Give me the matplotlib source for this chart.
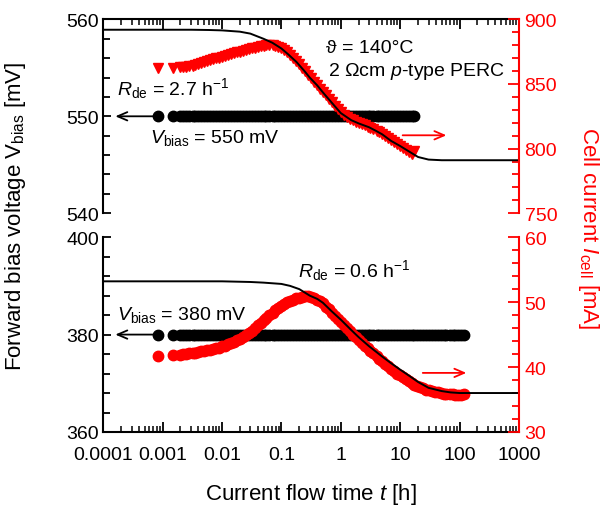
import numpy as np
import matplotlib
matplotlib.use("Agg")
import matplotlib.pyplot as plt
from matplotlib.ticker import MultipleLocator, LogLocator, NullFormatter

plt.rcParams["font.family"] = ["Liberation Sans", "DejaVu Sans"]
plt.rcParams["mathtext.fontset"] = "custom"
plt.rcParams["mathtext.rm"] = "Liberation Sans"
plt.rcParams["mathtext.it"] = "Liberation Sans:italic"
plt.rcParams["axes.linewidth"] = 1.5

# measurement times [h]
t_top = [0.00083, 0.0015,
         0.0020, 0.0022, 0.0025, 0.0028, 0.0032, 0.0035, 0.0040, 0.0045, 0.0050, 0.0056,
         0.0063, 0.0071, 0.0079, 0.0089, 0.010, 0.0112, 0.0126, 0.0141, 0.0158, 0.0178,
         0.020, 0.0224, 0.0251, 0.0282, 0.0316, 0.0355, 0.040, 0.0447, 0.050, 0.056,
         0.063, 0.071, 0.079, 0.089, 0.10, 0.112, 0.126, 0.141, 0.158, 0.178,
         0.20, 0.224, 0.251, 0.282, 0.316, 0.355, 0.40, 0.447, 0.50, 0.56,
         0.63, 0.71, 0.79, 0.89, 1.0, 1.12, 1.26, 1.41, 1.58, 1.78,
         2.0, 2.24, 2.51, 2.82, 3.16, 3.55, 4.0, 4.47, 5.0, 5.6,
         6.3, 7.1, 7.9, 8.9, 10, 11.2, 12.6, 14.1, 15.8, 17]
t_bot = t_top + [19, 21.4, 24, 27, 30, 34, 38, 43, 48, 54, 60, 68, 76, 85, 95, 107, 120]

# bias voltage [mV]
v_top = [550.0] * len(t_top)
v_bot = [380.0] * len(t_bot)

# cell current at 550 mV [mA]
i_top = [862.5, 862.5,
         862.8, 863.0, 863.3, 863.8, 864.3, 864.8, 865.5, 866.2, 866.8, 867.5,
         868.3, 869.0, 869.8, 870.5, 871.2, 871.9, 872.6, 873.2, 873.9, 874.5,
         875.1, 875.7, 876.3, 876.9, 877.5, 878.1, 878.7, 879.2, 879.6, 880.0,
         880.1, 880.0, 879.6, 878.8, 877.8, 876.4, 874.6, 872.5, 870.2, 867.8,
         865.2, 862.6, 860.0, 857.3, 854.6, 851.9, 849.2, 846.5, 843.8, 841.1,
         838.4, 835.7, 833.0, 830.4, 828.0, 826.0, 824.3, 822.9, 821.8, 820.8,
         819.8, 818.9, 818.0, 817.1, 816.2, 815.1, 813.9, 812.6, 811.2, 809.8,
         808.3, 806.8, 805.2, 803.6, 802.0, 800.4, 798.8, 797.3, 796.2, 798.0]

# cell current at 380 mV [mA]
i_bot = [41.7, 41.8,
         41.9, 42.0, 42.0, 42.1, 42.2, 42.2, 42.3, 42.4, 42.5, 42.6,
         42.7, 42.8, 42.9, 43.0, 43.2, 43.3, 43.5, 43.7, 43.9, 44.1,
         44.3, 44.6, 44.9, 45.2, 45.6, 46.0, 46.4, 46.8, 47.2, 47.6,
         48.0, 48.4, 48.8, 49.1, 49.4, 49.7, 50.0, 50.2, 50.4, 50.6,
         50.7, 50.8, 50.9, 50.9, 50.8, 50.6, 50.4, 50.1, 49.8, 49.3,
         48.9, 48.4, 47.9, 47.4, 46.9, 46.5, 46.0, 45.5, 45.0, 44.6,
         44.1, 43.7, 43.3, 42.9, 42.5, 42.1, 41.7, 41.3, 40.9, 40.5,
         40.1, 39.7, 39.4, 39.0, 38.7, 38.4, 38.1, 37.8, 37.5, 37.3,
         37.1, 36.9, 36.7, 36.5, 36.4, 36.3, 36.2, 36.1, 36.0, 35.9,
         35.9, 35.8, 35.8, 35.7, 35.7, 35.7, 35.8]

# fits
t_fit_top = [1e-4, 0.003, 0.006, 0.01, 0.02, 0.03, 0.05, 0.07, 0.1, 0.13, 0.18, 0.25, 0.3, 0.4,
             0.5, 0.7, 1.0, 1.5, 2, 3, 4, 5, 7, 10, 15, 20, 30, 50, 1000]
i_fit_top = [892, 892, 891.8, 891.5, 890.5, 889, 885, 882, 877.5, 873, 867, 859.5, 855, 849,
             843.5, 835.7, 827.5, 822, 819.5, 816.5, 813.5, 811, 806, 802, 797, 793.5, 791.5, 791, 791]

t_fit_bot = [1e-4, 0.01, 0.03, 0.05, 0.1, 0.14, 0.2, 0.3, 0.4, 0.5, 0.7, 1.0, 1.5, 2, 3,
             5, 7, 10, 15, 20, 30, 50, 70, 100, 1000]
i_fit_bot = [53.2, 53.2, 53.1, 53.0, 52.8, 52.5, 52.0, 51.0, 50.5, 49.9, 48.6, 47.3, 45.7, 44.6, 43.2,
             41.6, 40.6, 39.6, 38.5, 37.7, 36.8, 36.3, 36.1, 36.0, 36.0]

red = "#ff0000"
fs_tick = 14
fs_txt = 14
fs_lab = 16

fig = plt.figure(figsize=(6.07, 5.10), dpi=100)
ax1 = fig.add_axes([0.170, 0.580, 0.685, 0.380])
ax2 = fig.add_axes([0.170, 0.151, 0.685, 0.382])
ax1r = ax1.twinx()
ax2r = ax2.twinx()

for ax in (ax1, ax2):
    ax.set_xscale("log")
    ax.set_xlim(1e-4, 1e3)
    ax.xaxis.set_major_locator(LogLocator(base=10, numticks=20))
    ax.xaxis.set_minor_locator(LogLocator(base=10, subs=np.arange(2, 10), numticks=20))
    ax.xaxis.set_minor_formatter(NullFormatter())

# top panel
ax1.plot(t_top, v_top, "o", color="black", ms=7.5, mec="black")
ax1r.plot(t_top, i_top, "v", color=red, ms=7.8, mec=red)
ax1r.plot(t_fit_top, i_fit_top, "-", color="black", lw=1.4)
ax1.set_ylim(540, 560)
ax1r.set_ylim(750, 900)
ax1.yaxis.set_major_locator(MultipleLocator(10))
ax1.yaxis.set_minor_locator(MultipleLocator(2))
ax1r.yaxis.set_major_locator(MultipleLocator(50))
ax1r.yaxis.set_minor_locator(MultipleLocator(10))
ax1.tick_params(axis="x", which="both", direction="in", top=True, bottom=False,
                labeltop=False, labelbottom=False)
ax1.spines["bottom"].set_visible(False)
ax1.spines["right"].set_visible(False)
for s in ("top", "bottom", "left"):
    ax1r.spines[s].set_visible(False)

# bottom panel
ax2.plot(t_bot, v_bot, "o", color="black", ms=7.5, mec="black")
ax2r.plot(t_bot, i_bot, "o", color=red, ms=7.5, mec=red)
ax2r.plot(t_fit_bot, i_fit_bot, "-", color="black", lw=1.4)
ax2.set_ylim(360, 400)
ax2r.set_ylim(30, 60)
ax2.yaxis.set_major_locator(MultipleLocator(20))
ax2.yaxis.set_minor_locator(MultipleLocator(4))
ax2r.yaxis.set_major_locator(MultipleLocator(10))
ax2r.yaxis.set_minor_locator(MultipleLocator(2))
ax2.tick_params(axis="x", which="both", direction="in", top=False, bottom=True,
                labelsize=fs_tick, pad=10)
ax2.set_xticks([1e-4, 1e-3, 1e-2, 1e-1, 1, 10, 100, 1000])
ax2.set_xticklabels(["0.0001", "0.001", "0.01", "0.1", "1", "10", "100", "1000"])
ax2.spines["top"].set_visible(False)
ax2.spines["right"].set_visible(False)
for s in ("top", "bottom", "left"):
    ax2r.spines[s].set_visible(False)

for ax in (ax1, ax2):
    ax.tick_params(axis="y", which="both", direction="in", labelsize=fs_tick, width=1.3, pad=3)
    ax.tick_params(axis="y", which="major", length=6)
    ax.tick_params(axis="y", which="minor", length=5)
    ax.tick_params(axis="x", which="major", length=7, width=1.3)
    ax.tick_params(axis="x", which="minor", length=4, width=1.1)
for ax in (ax1r, ax2r):
    ax.spines["right"].set_color(red)
    ax.tick_params(axis="y", which="both", direction="in", colors=red, labelsize=fs_tick,
                   width=1.3, pad=4)
    ax.tick_params(axis="y", which="major", length=8)
    ax.tick_params(axis="y", which="minor", length=5)

# arrows
arr = dict(arrowstyle="->,head_length=0.7,head_width=0.3", lw=1.3, shrinkA=0, shrinkB=0)
ax1.annotate("", xy=(0.00016, 550), xytext=(0.0008, 550), arrowprops=dict(arr, color="black"))
ax2.annotate("", xy=(0.00016, 380), xytext=(0.0008, 380), arrowprops=dict(arr, color="black"))
ax1r.annotate("", xy=(60, 810.3), xytext=(11, 810.3), arrowprops=dict(arr, color=red))
ax2r.annotate("", xy=(130, 39.1), xytext=(24, 39.1), arrowprops=dict(arr, color=red))

# texts
ax1.text(0.537, 0.854, "\u03d1 = 140°C", transform=ax1.transAxes, fontsize=fs_txt, va="center")
ax1.text(0.541, 0.734, r"2 $\Omega$cm $p$-type PERC", transform=ax1.transAxes, fontsize=fs_txt, va="center")
ax1.text(0.033, 0.65, r"$R_{\rm de}$ = 2.7 h$^{-1}$", transform=ax1.transAxes, fontsize=fs_txt, va="center")
ax1.text(0.113, 0.392, r"$V_{\rm bias}$ = 550 mV", transform=ax1.transAxes, fontsize=fs_txt, va="center")
ax2.text(0.469, 0.836, r"$R_{\rm de}$ = 0.6 h$^{-1}$", transform=ax2.transAxes, fontsize=fs_txt, va="center")
ax2.text(0.033, 0.605, r"$V_{\rm bias}$ = 380 mV", transform=ax2.transAxes, fontsize=fs_txt, va="center")

fig.text(0.026, 0.576, r"Forward bias voltage V$_{\rm bias}$ [mV]", rotation=90,
         ha="center", va="center", fontsize=fs_lab)
fig.text(0.970, 0.553, r"Cell current $I_{\rm cell}$ [mA]", rotation=270, color=red,
         ha="center", va="center", fontsize=fs_lab)
fig.text(0.512, 0.030, r"Current flow time $t$ [h]", ha="center", va="center", fontsize=fs_lab)

fig.savefig("out.png", dpi=100)
